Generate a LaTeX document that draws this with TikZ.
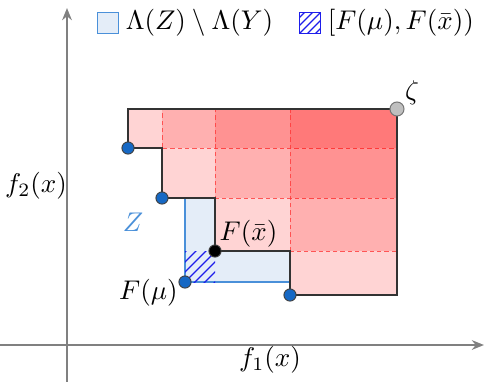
\documentclass[tikz,border=0pt]{standalone}
\usepackage{amsmath}
\usepackage{tikz}
\usetikzlibrary{arrows.meta,positioning}

\definecolor{ptblue}{RGB}{22,104,196}
\definecolor{zblue}{RGB}{74,144,217}
\definecolor{zfill}{RGB}{228,237,248}
\definecolor{hatchblue}{RGB}{30,30,235}

\begin{document}
\begin{tikzpicture}[x=0.013cm,y=-0.013cm,
  axis/.style={draw=gray,line width=0.75pt,-{Stealth[length=4.5pt,width=3.6pt]}},
  dom/.style={fill=red,fill opacity=.17,draw=red!80,draw opacity=.75,dash pattern=on 1.6pt off 1.1pt,line width=0.35pt},
  front/.style={draw=black!80,line width=0.5pt},
  dot/.style={circle,draw=black!75,fill=ptblue,inner sep=0pt,minimum size=4.5pt,line width=0.35pt},
  hline/.style={draw=hatchblue,line width=0.5pt},
  lbox/.style={minimum size=7.6pt,inner sep=0pt,line width=0.5pt}]
\useasboundingbox (0,0) rectangle (490,382);
% axes
\coordinate (xs) at (0,345); \coordinate (xe) at (484,345);
\coordinate (ys) at (67,382); \coordinate (ye) at (67,8);
\draw[axis] (xs) -- (xe);
\draw[axis] (ys) -- (ye);
\node (f1) at (270,360) {$f_1(x)$};
\node (f2) at (36,186) {$f_2(x)$};
% points of the front and the reference point
\coordinate (a) at (128,148); \coordinate (b) at (162,198);
\coordinate (c) at (215,251); \coordinate (d) at (290,295);
\coordinate (r) at (397,109); \coordinate (m) at (185,282);
% region of Z
\fill[zfill] (185,198) -- (215,198) -- (c) -- (290,251) -- (290,282) -- (m) -- cycle;
\draw[zblue,line width=0.5pt] (290,282) -- (m) -- (185,198);
\begin{scope}
  \clip (c) rectangle (m);
  \foreach \k in {-40,-30,...,40}
    \draw[hline] (185-10+\k,282+10) -- (185+40+\k,282-40);
\end{scope}
% dominated boxes
\foreach \p in {a,b,c,d}
  \draw[dom] (\p) rectangle (r);
\draw[front] (r) -| (a) -| (b) -| (c) -| (d) -| cycle;
% dots
\node[dot] (pa) at (a) {};
\node[dot] (pb) at (b) {};
\node[dot] (pd) at (d) {};
\node[dot] (mu) at (m) {};
\node[dot,fill=black] (xbar) at (c) {};
\node[dot,fill=black!25,draw=black!55,minimum size=5.2pt] (zeta) at (r) {};
\node[above right=-4pt and -2.5pt of zeta] (zl) {$\zeta$};
\node[above right=-4pt and -3.5pt of xbar] (xl) {$F(\bar{x})$};
\node[below left=-6.3pt and -2.5pt of mu] (ml) {$F(\mu)$};
\node[text=zblue] (zname) at (133,222) {$Z$};
% legend
\node[lbox,draw=zblue,fill=zfill] (leg1) at (108,23) {};
\node[right=-1pt of leg1] (legt1) {$\Lambda(Z)\setminus\Lambda(Y)$};
\node[lbox,draw=hatchblue] (leg2) at (310,23) {};
\begin{scope}
  \clip (leg2.south west) rectangle (leg2.north east);
  \foreach \k in {-32,-24,...,32}
    \draw[hline] (299-10+\k,34+10) -- (299+30+\k,34-30);
\end{scope}
\node[right=-1pt of leg2] (legt2) {$[F(\mu),F(\bar{x}))$};
\end{tikzpicture}
\end{document}
